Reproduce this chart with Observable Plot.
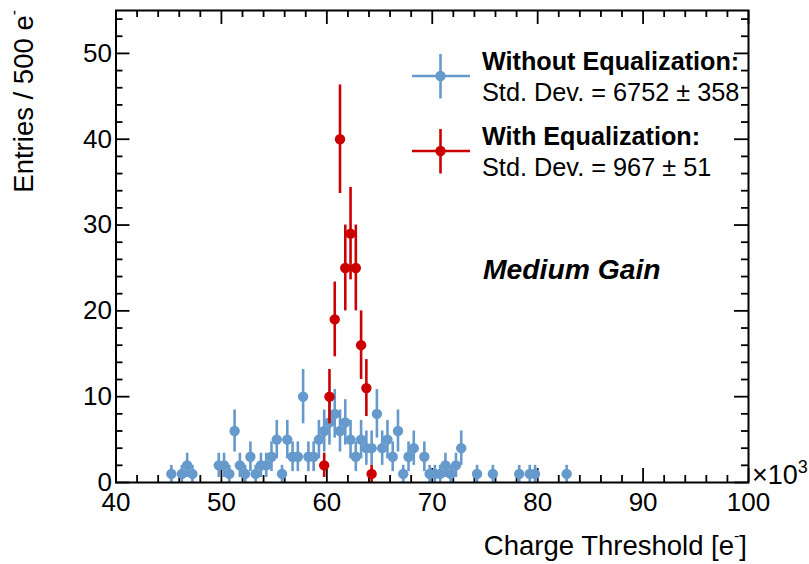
<!DOCTYPE html>
<html>
<head>
<meta charset="utf-8">
<script src="https://cdn.jsdelivr.net/npm/d3@7"></script>
<script src="https://cdn.jsdelivr.net/npm/@observablehq/plot@0.6"></script>
<style>
  html, body { margin: 0; padding: 0; background: #fff; }
  #chart svg { display: block; }
</style>
</head>
<body>
<div id="chart"></div>
<script>
// ---- data (bin centres in electrons, 500 e- bins) ----
const blueX = [45250, 46250, 46750, 47250, 49750, 50250, 50750, 51250, 51750, 52250,
  52750, 53250, 53750, 54250, 54750, 55250, 55750, 56250, 56750, 57250,
  57750, 58250, 58750, 59250, 59750, 60250, 60750, 61250, 61750, 62250,
  62750, 63250, 63750, 64250, 64750, 65250, 65750, 66250, 66750, 67250,
  67750, 68250, 69250, 69750, 70250, 70750, 71250, 71750, 72250, 72750,
  74250, 75750, 78250, 79250, 79750, 82750];
const blueN = [1, 1, 2, 1, 2, 2, 1, 6, 2, 1,
  3, 1, 2, 2, 3, 5, 1, 5, 3, 3,
  10, 3, 3, 5, 6, 7, 8, 6, 7, 5,
  3, 5, 4, 4, 8, 4, 5, 3, 6, 1,
  3, 4, 3, 1, 1, 1, 2, 1, 2, 4,
  1, 1, 1, 1, 1, 1];
const redX = [59750, 60250, 60750, 61250, 61750, 62250, 62750, 63250, 63750, 64250];
const redN = [2, 10, 19, 40, 25, 29, 25, 16, 11, 1];

const xMajorTicks = [40000, 50000, 60000, 70000, 80000, 90000, 100000];
const xTickLabels = ["40", "50", "60", "70", "80", "90", "100"];
const yMajorTicks = [0, 10, 20, 30, 40, 50];
const yTickLabels = ["0", "10", "20", "30", "40", "50"];

const blueColor = "#6699cc";
const redColor = "#cc0000";

// ---- layout ----
const W = 809, H = 564;
const mL = 115.5, mR = 61, mT = 10, mB = 82;
const xDom = [40000, 100000], yDom = [0, 55];
const pxPerX = (W - mL - mR) / (xDom[1] - xDom[0]);
const pxPerY = (H - mT - mB) / (yDom[1] - yDom[0]);
const majLen = 14, minLen = 7;

const blue = blueX.map((x, i) => ({x, n: blueN[i]}));
const red = redX.map((x, i) => ({x, n: redN[i]}));

const xMinor = d3.range(40000, 100001, 2000).filter(v => v % 10000 !== 0);
const yMinor = d3.range(0, 55.1, 2).filter(v => v % 10 !== 0);

const xt = (v, len) => [{x: v, y1: 0, y2: len / pxPerY}, {x: v, y1: 55, y2: 55 - len / pxPerY}];
const yt = (v, len) => [{y: v, x1: 40000, x2: 40000 + len / pxPerX}, {y: v, x1: 100000, x2: 100000 - len / pxPerX}];
const xTicks = [...xMajorTicks.flatMap(v => xt(v, majLen)), ...xMinor.flatMap(v => xt(v, minLen))];
const yTicks = [...yMajorTicks.flatMap(v => yt(v, majLen)), ...yMinor.flatMap(v => yt(v, minLen))];

const plot = Plot.plot({
  width: W,
  height: H,
  marginLeft: mL,
  marginRight: mR,
  marginTop: mT,
  marginBottom: mB,
  style: {fontFamily: "'Liberation Sans', Arial, Helvetica, sans-serif", background: "#fff", color: "#000"},
  x: {domain: xDom},
  y: {domain: yDom},
  marks: [
    Plot.axisX(xMajorTicks, {tickSize: 0, tickPadding: 10, fontSize: 26, tickFormat: (d) => xTickLabels[xMajorTicks.indexOf(d)], label: null}),
    Plot.axisY(yMajorTicks, {tickSize: 0, tickPadding: 4, fontSize: 26, tickFormat: (d) => yTickLabels[yMajorTicks.indexOf(d)], label: null}),
    Plot.ruleX(xTicks, {x: "x", y1: "y1", y2: "y2", stroke: "#000", strokeWidth: 1.8}),
    Plot.ruleY(yTicks, {y: "y", x1: "x1", x2: "x2", stroke: "#000", strokeWidth: 1.8}),
    // blue (without equalization)
    Plot.ruleX(blue, {x: "x", y1: d => d.n - Math.sqrt(d.n), y2: d => d.n + Math.sqrt(d.n), stroke: blueColor, strokeWidth: 2.6}),
    Plot.dot(blue, {x: "x", y: "n", r: 5.2, fill: blueColor, stroke: "none"}),
    // red (with equalization)
    Plot.ruleX(red, {x: "x", y1: d => d.n - Math.sqrt(d.n), y2: d => d.n + Math.sqrt(d.n), stroke: redColor, strokeWidth: 2.6}),
    Plot.dot(red, {x: "x", y: "n", r: 5.2, fill: redColor, stroke: "none"}),
    Plot.frame({stroke: "#000", strokeWidth: 2})
  ]
});

document.getElementById("chart").appendChild(plot);

// ---- annotations, legend, axis titles ----
const svg = d3.select(plot);
const font = "'Liberation Sans', Arial, Helvetica, sans-serif";

function legendItem(cx, cy, color) {
  const g = svg.append("g");
  g.append("line").attr("x1", cx - 28.5).attr("x2", cx + 29.5).attr("y1", cy).attr("y2", cy)
    .attr("stroke", color).attr("stroke-width", 2.6);
  g.append("line").attr("x1", cx).attr("x2", cx).attr("y1", cy - 22).attr("y2", cy + 22.5)
    .attr("stroke", color).attr("stroke-width", 2.6);
  g.append("circle").attr("cx", cx).attr("cy", cy).attr("r", 5.2).attr("fill", color);
}
legendItem(440.5, 76, blueColor);
legendItem(440.5, 151, redColor);

function txt(x, y, s, opts = {}) {
  return svg.append("text").attr("x", x).attr("y", y)
    .attr("font-family", font).attr("font-size", opts.size || 24)
    .attr("font-weight", opts.weight || "normal")
    .attr("font-style", opts.style || "normal")
    .attr("text-anchor", opts.anchor || "start")
    .attr("fill", "#000").text(s);
}
txt(482, 70, "Without Equalization:", {weight: "bold", size: 25.2});
txt(482, 101, "Std. Dev. = 6752 \u00b1 358", {size: 25.3});
txt(482, 145, "With Equalization:", {weight: "bold", size: 25.2});
txt(482, 176, "Std. Dev. = 967 \u00b1 51", {size: 25.3});
txt(483, 279, "Medium Gain", {weight: "bold", style: "italic", size: 28.3});

// x-axis title with superscript minus
const xt1 = svg.append("text").attr("x", 747).attr("y", 555)
  .attr("font-family", font).attr("font-size", 27.5).attr("text-anchor", "end").attr("fill", "#000");
xt1.append("tspan").text("Charge Threshold [e");
xt1.append("tspan").attr("font-size", 16).attr("dy", -14).text("-");
xt1.append("tspan").attr("dy", 14).text("]");

// y-axis title, rotated, aligned to top
const yt1 = svg.append("text").attr("transform", "translate(33,10) rotate(-90)")
  .attr("font-family", font).attr("font-size", 27.5).attr("text-anchor", "end").attr("fill", "#000");
yt1.append("tspan").text("Entries / 500 e");
yt1.append("tspan").attr("font-size", 16).attr("dy", -14).text("-");

// exponent label
const ex = svg.append("text").attr("x", 752).attr("y", 484)
  .attr("font-family", font).attr("font-size", 27).attr("text-anchor", "start").attr("fill", "#000");
ex.append("tspan").text("\u00d710");
ex.append("tspan").attr("font-size", 18).attr("dy", -11).text("3");
</script>
</body>
</html>
